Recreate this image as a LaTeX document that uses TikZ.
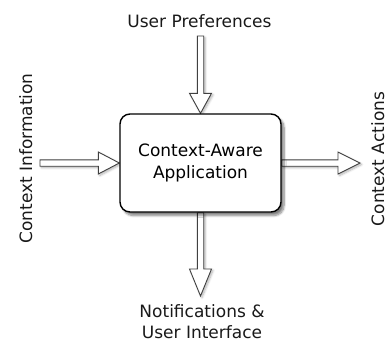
\documentclass[tikz,border=0pt]{standalone}
\usepackage{fontspec}
\setmainfont{DejaVu Sans}
\usetikzlibrary{calc,shadows.blur}
\pgfdeclarelayer{background}
\pgfsetlayers{background,main}

% 空心箭头: 起点, 终点(箭尖), 箭头长度
\newcommand{\hollowarrow}[3]{%
  \coordinate (hb) at ($(#2)!#3!(#1)$);
  \draw[hollow] ($(#1)!3.2pt!90:(#2)$) -- ($(hb)!3.2pt!90:(#2)$) -- ($(hb)!11pt!90:(#2)$)
    -- (#2) -- ($(hb)!11pt!-90:(#2)$) -- ($(hb)!3.2pt!-90:(#2)$) -- ($(#1)!3.2pt!-90:(#2)$) -- cycle;
}

\tikzset{
  hollow/.style={draw=black!75, line width=0.9pt, fill=white, line join=miter,
    blur shadow={shadow xshift=1.5pt, shadow yshift=-1.5pt, shadow blur steps=6, shadow opacity=30}},
  appbox/.style={draw=black, line width=1.4pt, fill=white, rounded corners=10pt,
    minimum width=161pt, minimum height=98pt, inner sep=0pt, align=center,
    blur shadow={shadow xshift=3pt, shadow yshift=-3.5pt, shadow blur steps=8, shadow opacity=50}},
  lbl/.style={inner sep=0pt, text=black!90},
}

\begin{document}
\begin{tikzpicture}[x=1pt, y=-1pt, font=\fontsize{17}{22}\selectfont]
  \useasboundingbox (0,0) rectangle (388,341);

  \node[appbox] (app) at (200.5,163) {Context-Aware\\Application};

  \node[lbl, anchor=base] (pref) at (199.5,27) {User Preferences};
  \node[lbl, anchor=base, rotate=90] (info) at (32,158.5) {Context Information};
  \node[lbl, anchor=base, rotate=90] (acts) at (384,159) {Context Actions};
  \node[lbl, anchor=base, align=center, font=\fontsize{17}{21}\selectfont] (notif) at (202,338) {Notifications \&\\User Interface};

  \coordinate (pin) at (200.5,36);
  \coordinate (nout) at (200.5,296);
  \coordinate (cin) at (40,163);
  \coordinate (aout) at (360,163);

  % 四个方向的空心箭头
  \begin{pgfonlayer}{background}
    \foreach \s/\t/\h in {pin/app.north/20pt, app.south/nout/27pt, cin/app.west/21pt, app.east/aout/22pt}{
      \hollowarrow{\s}{\t}{\h}
    }
  \end{pgfonlayer}
\end{tikzpicture}
\end{document}
